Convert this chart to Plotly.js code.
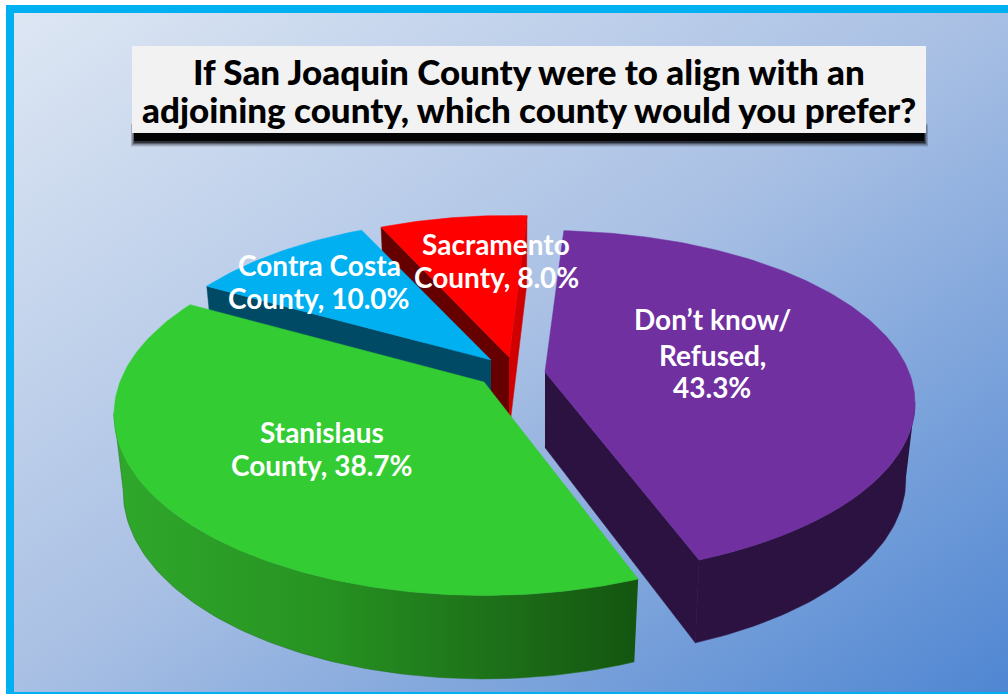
<!DOCTYPE html>
<html><head><meta charset="utf-8">
<script src="https://cdn.plot.ly/plotly-3.0.1.min.js"></script>
<style>
html,body{margin:0;padding:0;background:#fff;overflow:hidden}
#chart{width:1008px;height:694px;background:linear-gradient(to bottom right,#dfe8f4 0%,#a9c0e4 50%,#4f86d2 100%)}
</style></head><body><div id="chart"></div>
<script>
const categories = [["Don\u2019t know/","Refused,","43.3%"],["Stanislaus","County, 38.7%"],["Contra Costa","County, 10.0%"],["Sacramento","County, 8.0%"]];
const values = [43.3, 38.7, 10.0, 8.0];
const topColors = ["#7030a0","#33cc33","#00b0f0","#ff0000"];
const wallColors = ["#2c1240","#226f1e","#004a66","#660000"];
const sideColors = ["#2c1240","#1a5e14","#004a66","#d00000"];
const apexX = [545,484,491,509];
const apexY = [372,382,360,357];
const radiusX = [364,364,352,348];
const radiusY = [167,175,167,167];
const labelX = [712,322,319,496];
const labelY = [[319,355,387],[432,465],[265,298],[244,277]];
const titleLines = ["If San Joaquin County were to align with an","adjoining county, which county would you prefer?"];
const titleY = [71,109];

const START=3.5, K=0.18, DEPTH=72, SHRINK=0.975;
const total = values.reduce((a,b)=>a+b,0);
function proj(i,tDeg,r,z){
  const t=tDeg*Math.PI/180, X=r*Math.sin(t), Y=r*Math.cos(t), s=1/(1+K*Y);
  const w = z? SHRINK:1;
  return [apexX[i]+radiusX[i]*X*s*w, apexY[i]-radiusY[i]*Y*s+z*DEPTH*(z?s*0.5+0.55:0)];
}
function poly(pts,color,extra){
  return Object.assign({type:"scatter",mode:"lines",x:pts.map(p=>p[0]),y:pts.map(p=>p[1]),
    fill:"toself",fillcolor:color,line:{color:color,width:0.5},hoverinfo:"skip",showlegend:false},extra||{});
}
let a=START; const spans=values.map(v=>{const s=[a,a+v/total*360];a=s[1];return s;});
function arc(i,t0,t1,z){const n=Math.max(2,Math.round(Math.abs(t1-t0)));const o=[];for(let j=0;j<=n;j++)o.push(proj(i,t0+(t1-t0)*j/n,1,z));return o;}
function topFace(i){return [[apexX[i],apexY[i]],...arc(i,spans[i][0],spans[i][1],0),[apexX[i],apexY[i]]];}
function rim(i,t0,t1){return [...arc(i,t0,t1,0),...arc(i,t1,t0,1)];}
function radial(i,t){const p=proj(i,t,1,0),q=proj(i,t,1,1),c=proj(i,0,0,1);return [[apexX[i],apexY[i]],p,q,c];}

const traces=[];
traces.push(poly(radial(3,spans[3][1]),sideColors[3]));
traces.push(poly(radial(3,spans[3][0]),wallColors[3]));
traces.push(poly(topFace(3),topColors[3]));
traces.push(poly(radial(2,spans[2][0]),wallColors[2]));
traces.push(poly(topFace(2),topColors[2]));
traces.push(poly(rim(1,spans[1][0],260),wallColors[1],{
  fillgradient:{type:"horizontal",colorscale:[[0,"#2fa82b"],[0.4,"#279322"],[0.75,"#1c6e18"],[1,"#145510"]]}}));
traces.push(poly(topFace(1),topColors[1]));
traces.push(poly(radial(0,spans[0][1]),wallColors[0]));
traces.push(poly(rim(0,100,spans[0][1]),wallColors[0]));
traces.push(poly(topFace(0),topColors[0]));

const anns=[];
categories.forEach((lines,i)=>lines.forEach((ln,j)=>anns.push({xref:"x",yref:"y",x:labelX[i],y:labelY[i][j],text:ln,showarrow:false,
  xanchor:"center",yanchor:"middle",font:{family:"Lato, sans-serif",size:28,color:"#ffffff",weight:700}})));
titleLines.forEach((ln,j)=>anns.push({xref:"x",yref:"y",x:529,y:titleY[j],text:ln,showarrow:false,xanchor:"center",yanchor:"middle",
  font:{family:"Lato, sans-serif",size:35,color:"#000000",weight:900}}));

const rect=(x0,y0,x1,y1,c,op)=>({type:"rect",xref:"x",yref:"y",x0,y0,x1,y1,fillcolor:c,opacity:op===undefined?1:op,line:{width:0},layer:"below"});
const shapes=[
  rect(0,0,1008,5,"#ffffff"),rect(0,0,6,694,"#ffffff"),
  rect(6,5,1008,13,"#00b0f0"),rect(6,5,14,694,"#00b0f0"),rect(6,692,1008,694,"#00b0f0"),
  rect(131,124,928,147,"#223",0.1),rect(131,124,928,146,"#223",0.15),rect(132,126,927,145,"#111",0.2),
  rect(133,128,926,144,"#000",0.3),rect(134,128,925,143,"#000",0.5),rect(134,128,924,141,"#000",0.9),
  rect(132,46,926,133,"#f2f2f2")
];

Plotly.newPlot("chart",traces,{
  width:1008,height:694,margin:{l:0,r:0,t:0,b:0},paper_bgcolor:"rgba(0,0,0,0)",plot_bgcolor:"rgba(0,0,0,0)",
  xaxis:{range:[0,1008],visible:false,fixedrange:true},yaxis:{range:[694,0],visible:false,fixedrange:true},
  showlegend:false,annotations:anns,shapes:shapes
},{displayModeBar:false,staticPlot:true});
</script></body></html>
